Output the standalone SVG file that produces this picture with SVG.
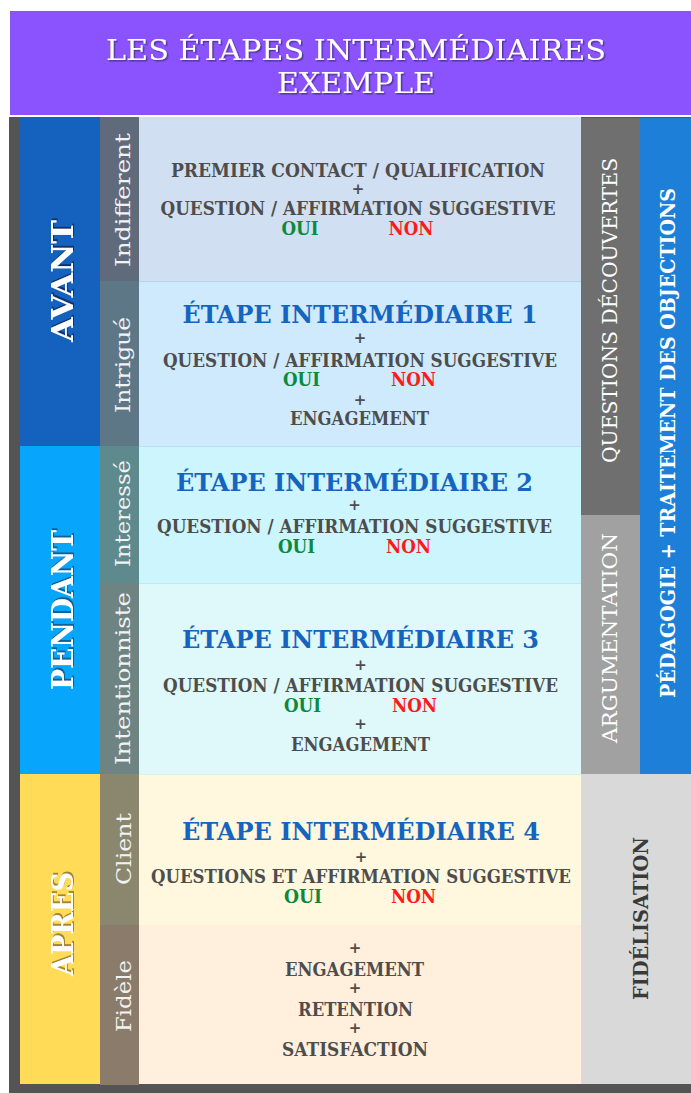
<svg xmlns="http://www.w3.org/2000/svg" width="691" height="1093" viewBox="0 0 691 1093">
  <defs>
    <filter id="shadowTitle" x="-10%" y="-30%" width="120%" height="160%">
      <feDropShadow dx="1.5" dy="1.5" stdDeviation="0.6" flood-color="#4b2d8f" flood-opacity="0.85"/>
    </filter>
    <filter id="shadowBlue" x="-30%" y="-10%" width="160%" height="120%">
      <feDropShadow dx="2" dy="1" stdDeviation="0.4" flood-color="#0b2f66" flood-opacity="0.9"/>
    </filter>
    <filter id="shadowCyan" x="-30%" y="-10%" width="160%" height="120%">
      <feDropShadow dx="2" dy="1" stdDeviation="0.4" flood-color="#0a5a8a" flood-opacity="0.9"/>
    </filter>
    <filter id="shadowYellow" x="-30%" y="-10%" width="160%" height="120%">
      <feDropShadow dx="2" dy="1" stdDeviation="0.4" flood-color="#9a7a2a" flood-opacity="0.9"/>
    </filter>
  </defs>
  <style>
    text { font-family: "DejaVu Serif", "Liberation Serif", serif; }
    .title { font-size: 28px; fill: #ffffff; text-anchor: middle; }
    .phase { font-size: 30px; font-weight: bold; fill: #ffffff; text-anchor: middle; }
    .stage { font-size: 20px; fill: #f2f2f2; text-anchor: middle; }
    .side { font-size: 20px; fill: #ffffff; text-anchor: middle; }
    .sideBold { font-size: 20px; font-weight: bold; fill: #ffffff; text-anchor: middle; }
    .sideDark { font-size: 20px; font-weight: bold; fill: #3a3a3a; text-anchor: middle; }
    .step { font-size: 24px; font-weight: bold; fill: #1565c0; text-anchor: middle; }
    .body { font-size: 19px; font-weight: bold; fill: #4d4d4d; text-anchor: middle; }
    .plus { font-size: 15px; font-weight: bold; fill: #4d4d4d; text-anchor: middle; }
    .oui { font-size: 18px; font-weight: bold; fill: #0a8a3c; text-anchor: middle; }
    .non { font-size: 18px; font-weight: bold; fill: #ff1a1a; text-anchor: middle; }
  </style>

  <!-- page background -->
  <rect x="0" y="0" width="691" height="1093" fill="#ffffff"/>

  <!-- header banner: two-line title -->
  <g id="header">
    <rect x="10" y="11" width="681" height="104" fill="#8b53fe"/>
    <text class="title" x="356" y="60" textLength="500" lengthAdjust="spacingAndGlyphs" filter="url(#shadowTitle)">LES ÉTAPES INTERMÉDIAIRES</text>
    <text class="title" x="356" y="93" textLength="158" lengthAdjust="spacingAndGlyphs" filter="url(#shadowTitle)">EXEMPLE</text>
  </g>

  <!-- dark outer frame -->
  <rect id="frame" x="9" y="117" width="682" height="976" fill="#545454"/>

  <!-- phase column -->
  <g id="phase-avant">
    <rect x="20" y="117" width="80" height="329" fill="#1561be"/>
    <text class="phase" transform="translate(73,281) rotate(-90)" textLength="122" lengthAdjust="spacingAndGlyphs" filter="url(#shadowBlue)">AVANT</text>
  </g>
  <g id="phase-pendant">
    <rect x="20" y="446" width="80" height="328" fill="#07a5fb"/>
    <text class="phase" transform="translate(73,610) rotate(-90)" textLength="160" lengthAdjust="spacingAndGlyphs" filter="url(#shadowCyan)">PENDANT</text>
  </g>
  <g id="phase-apres">
    <rect x="20" y="774" width="80" height="310" fill="#ffdb58"/>
    <text class="phase" transform="translate(73,924) rotate(-90)" textLength="104" lengthAdjust="spacingAndGlyphs" filter="url(#shadowYellow)">APRES</text>
  </g>

  <!-- stage rows: label strip + content -->
  <g id="stage-indifferent">
    <rect x="100" y="117" width="39" height="164" fill="#5f6b7b"/>
    <rect x="139" y="117" width="442" height="164" fill="#d0dff1"/>
    <text class="stage" transform="translate(130,200) rotate(-90)" textLength="134" lengthAdjust="spacingAndGlyphs">Indifferent</text>
    <text class="body" x="358" y="177" textLength="374" lengthAdjust="spacingAndGlyphs">PREMIER CONTACT / QUALIFICATION</text>
    <text class="plus" x="358" y="194">+</text>
    <text class="body" x="358" y="215" textLength="395" lengthAdjust="spacingAndGlyphs">QUESTION / AFFIRMATION SUGGESTIVE</text>
    <text class="oui" x="300" y="235" textLength="37" lengthAdjust="spacingAndGlyphs">OUI</text>
    <text class="non" x="411" y="235" textLength="45" lengthAdjust="spacingAndGlyphs">NON</text>
  </g>

  <g id="stage-intrigue">
    <rect x="100" y="281" width="39" height="165" fill="#5d7787"/>
    <rect x="139" y="281" width="442" height="165" fill="#ceeafc"/>
    <line x1="139" y1="281.5" x2="581" y2="281.5" stroke="#b3d5ef" stroke-width="1"/>
    <text class="stage" transform="translate(130,365) rotate(-90)" textLength="96" lengthAdjust="spacingAndGlyphs">Intrigué</text>
    <text class="step" x="360" y="323" textLength="355" lengthAdjust="spacingAndGlyphs">ÉTAPE INTERMÉDIAIRE 1</text>
    <text class="plus" x="360" y="343">+</text>
    <text class="body" x="360" y="367" textLength="394" lengthAdjust="spacingAndGlyphs">QUESTION / AFFIRMATION SUGGESTIVE</text>
    <text class="oui" x="301.5" y="386" textLength="37" lengthAdjust="spacingAndGlyphs">OUI</text>
    <text class="non" x="413.5" y="386" textLength="45" lengthAdjust="spacingAndGlyphs">NON</text>
    <text class="plus" x="360" y="405">+</text>
    <text class="body" x="359.5" y="425" textLength="139" lengthAdjust="spacingAndGlyphs">ENGAGEMENT</text>
  </g>

  <g id="stage-interesse">
    <rect x="100" y="446" width="39" height="137" fill="#5e8a8d"/>
    <rect x="139" y="446" width="442" height="137" fill="#cdf5fd"/>
    <line x1="139" y1="446.5" x2="581" y2="446.5" stroke="#b3e3f3" stroke-width="1"/>
    <text class="stage" transform="translate(130,513.5) rotate(-90)" textLength="107" lengthAdjust="spacingAndGlyphs">Interessé</text>
    <text class="step" x="354.5" y="491" textLength="357" lengthAdjust="spacingAndGlyphs">ÉTAPE INTERMÉDIAIRE 2</text>
    <text class="plus" x="354.5" y="510">+</text>
    <text class="body" x="354.5" y="533" textLength="395" lengthAdjust="spacingAndGlyphs">QUESTION / AFFIRMATION SUGGESTIVE</text>
    <text class="oui" x="296.5" y="553" textLength="37" lengthAdjust="spacingAndGlyphs">OUI</text>
    <text class="non" x="408.5" y="553" textLength="45" lengthAdjust="spacingAndGlyphs">NON</text>
  </g>

  <g id="stage-intentionniste">
    <rect x="100" y="583" width="39" height="191" fill="#6e8482"/>
    <rect x="139" y="583" width="442" height="191" fill="#dff8f9"/>
    <line x1="139" y1="583.5" x2="581" y2="583.5" stroke="#b9eef6" stroke-width="1"/>
    <text class="stage" transform="translate(130,678.5) rotate(-90)" textLength="173" lengthAdjust="spacingAndGlyphs">Intentionniste</text>
    <text class="step" x="360.5" y="648" textLength="357" lengthAdjust="spacingAndGlyphs">ÉTAPE INTERMÉDIAIRE 3</text>
    <text class="plus" x="360.5" y="670">+</text>
    <text class="body" x="360.5" y="692" textLength="395" lengthAdjust="spacingAndGlyphs">QUESTION / AFFIRMATION SUGGESTIVE</text>
    <text class="oui" x="302.5" y="712" textLength="37" lengthAdjust="spacingAndGlyphs">OUI</text>
    <text class="non" x="414.5" y="712" textLength="45" lengthAdjust="spacingAndGlyphs">NON</text>
    <text class="plus" x="360.5" y="729">+</text>
    <text class="body" x="360.5" y="751" textLength="139" lengthAdjust="spacingAndGlyphs">ENGAGEMENT</text>
  </g>

  <g id="stage-client">
    <rect x="100" y="774" width="39" height="151" fill="#8b866e"/>
    <rect x="139" y="774" width="442" height="151" fill="#fff7de"/>
    <line x1="139" y1="774.5" x2="581" y2="774.5" stroke="#d8f3e6" stroke-width="1"/>
    <text class="stage" transform="translate(131,849) rotate(-90)" textLength="72" lengthAdjust="spacingAndGlyphs">Client</text>
    <text class="step" x="361" y="840" textLength="358" lengthAdjust="spacingAndGlyphs">ÉTAPE INTERMÉDIAIRE 4</text>
    <text class="plus" x="361" y="862">+</text>
    <text class="body" x="361" y="883" textLength="420" lengthAdjust="spacingAndGlyphs">QUESTIONS ET AFFIRMATION SUGGESTIVE</text>
    <text class="oui" x="303" y="903" textLength="38" lengthAdjust="spacingAndGlyphs">OUI</text>
    <text class="non" x="413.5" y="903" textLength="45" lengthAdjust="spacingAndGlyphs">NON</text>
  </g>

  <g id="stage-fidele">
    <rect x="100" y="925" width="39" height="160" fill="#8b7b6b"/>
    <rect x="139" y="925" width="442" height="159" fill="#ffefdc"/>
    <text class="stage" transform="translate(131,996) rotate(-90)" textLength="72" lengthAdjust="spacingAndGlyphs">Fidèle</text>
    <text class="plus" x="355" y="953">+</text>
    <text class="body" x="354.5" y="976" textLength="139" lengthAdjust="spacingAndGlyphs">ENGAGEMENT</text>
    <text class="plus" x="355" y="993">+</text>
    <text class="body" x="355.5" y="1016" textLength="115" lengthAdjust="spacingAndGlyphs">RETENTION</text>
    <text class="plus" x="355" y="1033">+</text>
    <text class="body" x="355" y="1056" textLength="146" lengthAdjust="spacingAndGlyphs">SATISFACTION</text>
  </g>

  <!-- right-hand technique columns -->
  <g id="technique-questions">
    <rect x="581" y="118" width="59" height="397" fill="#6f6f6f"/>
    <text class="side" transform="translate(617,310.5) rotate(-90)" textLength="305" lengthAdjust="spacingAndGlyphs">QUESTIONS DÉCOUVERTES</text>
  </g>
  <g id="technique-argumentation">
    <rect x="581" y="515" width="59" height="259" fill="#a1a1a1"/>
    <text class="side" transform="translate(617,638) rotate(-90)" textLength="210" lengthAdjust="spacingAndGlyphs">ARGUMENTATION</text>
  </g>
  <g id="technique-pedagogie">
    <rect x="640" y="118" width="51" height="656" fill="#1d7fd8"/>
    <text class="sideBold" transform="translate(675,443) rotate(-90)" textLength="510" lengthAdjust="spacingAndGlyphs">PÉDAGOGIE + TRAITEMENT DES OBJECTIONS</text>
  </g>
  <g id="technique-fidelisation">
    <rect x="581" y="774" width="110" height="310" fill="#d9d9d9"/>
    <text class="sideDark" transform="translate(648,918.5) rotate(-90)" textLength="163" lengthAdjust="spacingAndGlyphs">FIDÉLISATION</text>
  </g>
</svg>
